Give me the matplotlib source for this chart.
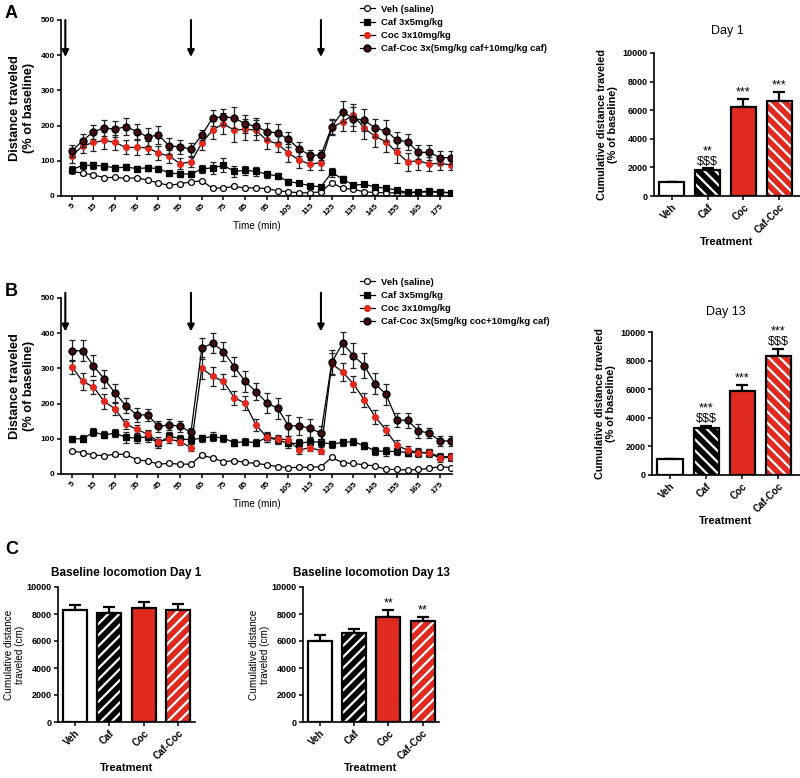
import numpy as np
import matplotlib.pyplot as plt
from matplotlib.lines import Line2D

plt.rcParams['font.family'] = ['Liberation Sans', 'DejaVu Sans']
plt.rcParams['hatch.linewidth'] = 1.6

time = np.arange(5, 181, 5)

# panel A - day 1 (% of baseline)
vehA = [70, 65, 60, 52, 53, 50, 52, 45, 37, 30, 35, 40, 43, 22, 23, 27, 23, 23,
        21, 15, 12, 9, 9, 12, 38, 22, 19, 12, 10, 9, 9, 9, 10, 12, 10, 9]
cafA = [75, 87, 87, 85, 80, 82, 78, 80, 78, 65, 63, 62, 77, 80, 87, 70, 73, 70,
        62, 57, 41, 36, 29, 26, 67, 48, 31, 33, 26, 22, 17, 10, 12, 14, 12, 9]
cocA = [115, 142, 152, 158, 152, 138, 138, 137, 122, 113, 92, 97, 150, 188, 205, 187, 190, 187,
        158, 148, 122, 102, 90, 95, 194, 211, 230, 192, 170, 154, 124, 97, 100, 91, 93, 88]
cafcocA = [128, 157, 183, 193, 190, 197, 183, 168, 173, 142, 140, 133, 173, 222, 225, 222, 205, 198,
           183, 179, 161, 133, 116, 116, 197, 240, 219, 216, 193, 185, 159, 154, 124, 124, 109, 109]

vehA_err = [4, 4, 4, 3, 3, 3, 3, 3, 3, 3, 3, 3, 3, 3, 3, 3, 3, 3,
            3, 3, 3, 3, 3, 3, 4, 3, 3, 3, 3, 3, 3, 3, 3, 3, 3, 3]
cafA_err = [10, 10, 10, 10, 8, 8, 8, 8, 8, 7, 8, 8, 12, 18, 20, 15, 12, 12,
            10, 8, 7, 6, 5, 5, 12, 10, 6, 6, 5, 5, 4, 4, 4, 4, 4, 4]
cocA_err = [20, 20, 25, 25, 22, 20, 22, 18, 20, 18, 15, 15, 18, 25, 30, 35, 30, 28,
            25, 22, 25, 22, 15, 20, 22, 25, 30, 30, 30, 28, 30, 25, 25, 20, 20, 15]
cafcocA_err = [18, 18, 20, 22, 22, 25, 22, 25, 25, 22, 20, 18, 15, 22, 22, 30, 25, 25,
               25, 25, 22, 20, 15, 15, 22, 30, 35, 30, 25, 30, 22, 22, 20, 22, 18, 18]

# panel B - day 13 (% of baseline)
vehB = [65, 61, 54, 52, 56, 56, 40, 37, 28, 30, 28, 28, 54, 45, 35, 38, 33, 30,
        26, 21, 18, 19, 19, 21, 47, 32, 30, 26, 23, 13, 13, 11, 13, 16, 21, 18]
cafB = [100, 100, 119, 111, 116, 104, 102, 106, 87, 108, 100, 97, 102, 106, 102, 89, 92, 89,
        104, 97, 87, 87, 92, 90, 85, 90, 92, 80, 66, 64, 64, 61, 61, 61, 49, 49]
cocB = [305, 263, 247, 206, 185, 142, 127, 113, 92, 99, 92, 75, 301, 277, 263, 217, 201, 139,
        105, 100, 97, 68, 75, 66, 313, 290, 256, 211, 163, 125, 81, 68, 61, 59, 45, 48]
cafcocB = [350, 350, 307, 270, 230, 194, 168, 168, 135, 140, 135, 119, 357, 372, 348, 305, 263, 234,
           202, 187, 137, 137, 130, 116, 317, 372, 336, 308, 256, 227, 154, 152, 123, 116, 94, 94]

vehB_err = [3, 3, 3, 3, 5, 5, 3, 3, 3, 3, 3, 3, 5, 3, 3, 3, 3, 3,
            3, 3, 3, 3, 3, 3, 4, 3, 3, 3, 3, 3, 3, 3, 3, 3, 3, 3]
cafB_err = [8, 10, 12, 10, 12, 15, 15, 15, 12, 12, 12, 12, 10, 12, 10, 10, 10, 10,
            12, 12, 12, 12, 10, 10, 10, 10, 10, 10, 12, 12, 10, 10, 10, 10, 10, 10]
cocB_err = [20, 25, 20, 20, 18, 15, 12, 12, 12, 12, 10, 10, 30, 28, 22, 20, 20, 18,
            15, 12, 12, 10, 10, 10, 30, 25, 22, 20, 20, 15, 15, 12, 12, 12, 10, 10]
cafcocB_err = [30, 30, 30, 25, 25, 22, 20, 18, 15, 15, 15, 12, 30, 28, 28, 28, 30, 25,
               28, 30, 30, 25, 25, 20, 35, 30, 35, 35, 30, 30, 20, 20, 20, 15, 15, 15]

injections = [2, 60, 120]

labelsA = ['Veh (saline)', 'Caf 3x5mg/kg', 'Coc 3x10mg/kg', 'Caf-Coc 3x(5mg/kg caf+10mg/kg caf)']
labelsB = ['Veh (saline)', 'Caf 3x5mg/kg', 'Coc 3x10mg/kg', 'Caf-Coc 3x(5mg/kg coc+10mg/kg caf)']

# cumulative bars
groups = ['Veh', 'Caf', 'Coc', 'Caf-Coc']
day1 = [950, 1850, 6200, 6650]
day1_err = [50, 80, 600, 600]
day1_sig = ['', '**\n$$$', '***', '***']
day13 = [1100, 3300, 5900, 8300]
day13_err = [50, 150, 400, 500]
day13_sig = ['', '***\n$$$', '***', '***\n$$$']
base1 = [8300, 8100, 8450, 8300]
base1_err = [400, 400, 450, 450]
base1_sig = ['', '', '', '']
base13 = [6000, 6600, 7750, 7450]
base13_err = [450, 300, 550, 350]
base13_sig = ['', '', '**', '**']

RED = '#e02a1f'
styles = [
    dict(marker='o', mfc='white', mec='black', ms=4.2, mew=0.9),
    dict(marker='s', mfc='black', mec='black', ms=4.2, mew=0.9),
    dict(marker='o', mfc=RED, mec=RED, ms=4.2, mew=0.9),
    dict(marker='o', mfc='#4a0c0c', mec='black', ms=4.8, mew=1.2),
]

fig = plt.figure(figsize=(8, 7.78), dpi=100)
W, H = 800, 778


def axes_px(left, top, right, bottom):
    return fig.add_axes([left / W, 1 - bottom / H, (right - left) / W, (bottom - top) / H])


def style_axes(ax, fs):
    for s in ['top', 'right']:
        ax.spines[s].set_visible(False)
    for s in ['left', 'bottom']:
        ax.spines[s].set_linewidth(1.2)
    ax.tick_params(length=3, width=1.1, labelsize=fs, pad=1.5)
    for t in ax.get_xticklabels() + ax.get_yticklabels():
        t.set_fontweight('bold')


def line_panel(ax, series, errs, labels, arrow_top, arrow_tip, leg_y):
    for y, e, st, lab in zip(series, errs, styles, labels):
        ax.errorbar(time, y, yerr=e, fmt='none', ecolor='#222222', elinewidth=0.9,
                    capsize=2.3, capthick=0.9)
        ax.plot(time, y, color='black', lw=0.9, label=lab, **st)
    for t in injections:
        ax.annotate('', xy=(t, arrow_tip), xytext=(t, arrow_top),
                    arrowprops=dict(arrowstyle='-|>', color='black', lw=1.5,
                                    mutation_scale=10, shrinkA=0, shrinkB=0),
                    annotation_clip=False)
    ax.set_xlim(0, 180.5)
    ax.set_ylim(0, 500)
    ax.set_xticks(np.arange(5, 180, 10))
    ax.set_yticks(np.arange(0, 501, 100))
    style_axes(ax, 6)
    plt.setp(ax.get_xticklabels(), rotation=45, ha='right', rotation_mode='anchor')
    ax.set_xlabel('Time (min)', fontsize=7.2, labelpad=3)
    ax.set_ylabel('Distance traveled\n(% of baseline)', fontsize=9.2, fontweight='bold',
                  labelpad=4)
    handles = [Line2D([], [], color='black', lw=0.9, **st) for st in styles]
    ax.legend(handles, labels, loc='upper left', bbox_to_anchor=(355 / W, leg_y),
              bbox_transform=fig.transFigure, frameon=False,
              prop=dict(size=6.8, weight='bold'), handlelength=1.6,
              labelspacing=0.45, borderpad=0, handletextpad=0.7)


def bar_panel(ax, vals, errs, sigs, hatch, right, fs_tick):
    x = np.arange(len(groups))
    faces = ['white', 'black', RED, RED]
    hatches = [None, hatch, None, hatch]
    for i in range(len(groups)):
        if hatches[i]:
            ax.bar(x[i], vals[i], 0.7, color=faces[i], edgecolor='white',
                   hatch=hatches[i], lw=0, zorder=2)
        else:
            ax.bar(x[i], vals[i], 0.7, color=faces[i], lw=0, zorder=2)
        ax.bar(x[i], vals[i], 0.7, fill=False, edgecolor='black', lw=1.6, zorder=3)
    ax.errorbar(x, vals, yerr=[np.zeros(len(vals)), errs], fmt='none', ecolor='black',
                elinewidth=1.6, capsize=4, capthick=1.6, zorder=1)
    for i, s in enumerate(sigs):
        if s:
            ax.annotate(s, (x[i], vals[i] + errs[i]), xytext=(0, 0.5),
                        textcoords='offset points', ha='center', va='bottom',
                        fontsize=9, linespacing=0.85, annotation_clip=False)
    ax.set_xlim(-0.5, right)
    ax.set_ylim(0, 10000)
    ax.set_yticks(np.arange(0, 10001, 2000))
    ax.set_xticks(x)
    ax.set_xticklabels(groups)
    style_axes(ax, fs_tick)
    plt.setp(ax.get_xticklabels(), rotation=45, ha='right', rotation_mode='anchor',
             fontsize=fs_tick + 0.5)
    ax.set_xlabel('Treatment', fontsize=8, fontweight='bold', labelpad=1)


# A
axA = axes_px(61, 20, 452, 196)
line_panel(axA, [vehA, cafA, cocA, cafcocA], [vehA_err, cafA_err, cocA_err, cafcocA_err],
           labelsA, 500, 395, 1.0)

# B
axB = axes_px(61, 298, 452, 474)
line_panel(axB, [vehB, cafB, cocB, cafcocB], [vehB_err, cafB_err, cocB_err, cafcocB_err],
           labelsB, 515, 405, 1 - 273 / H)

# Day 1 / Day 13 cumulative
ax1 = axes_px(654, 53, 800, 196)
bar_panel(ax1, day1, day1_err, day1_sig, '\\\\\\', 3.58, 6.5)
ax1.set_title('Day 1', fontsize=9, pad=14)
ax1.set_ylabel('Cumulative distance traveled\n(% of baseline)', fontsize=7.8,
               fontweight='bold', labelpad=3)

ax13 = axes_px(652, 332, 800, 475)
bar_panel(ax13, day13, day13_err, day13_sig, '\\\\\\', 3.6, 6.5)
ax13.set_title('Day 13', fontsize=9, pad=12)
ax13.set_ylabel('Cumulative distance traveled\n(% of baseline)', fontsize=7.8,
                fontweight='bold', labelpad=3)

# C baseline
axC1 = axes_px(58, 587, 195, 722)
bar_panel(axC1, base1, base1_err, base1_sig, '///', 3.5, 6.5)
axC1.set_title('Baseline locomotion Day 1', fontsize=8.5, fontweight='bold', pad=8)
axC1.set_ylabel('Cumulative distance\ntraveled (cm)', fontsize=7.2, labelpad=1)

axC13 = axes_px(303, 587, 439, 722)
bar_panel(axC13, base13, base13_err, base13_sig, '///', 3.48, 6.5)
axC13.set_title('Baseline locomotion Day 13', fontsize=8.5, fontweight='bold', pad=8)
axC13.set_ylabel('Cumulative distance\ntraveled (cm)', fontsize=7.2, labelpad=1)

fig.text(5 / W, 1 - 14 / H, 'A', fontsize=13, fontweight='bold', va='center')
fig.text(5 / W, 1 - 292 / H, 'B', fontsize=13, fontweight='bold', va='center')
fig.text(5 / W, 1 - 550 / H, 'C', fontsize=13, fontweight='bold', va='center')

plt.savefig('out.png', dpi=100)
